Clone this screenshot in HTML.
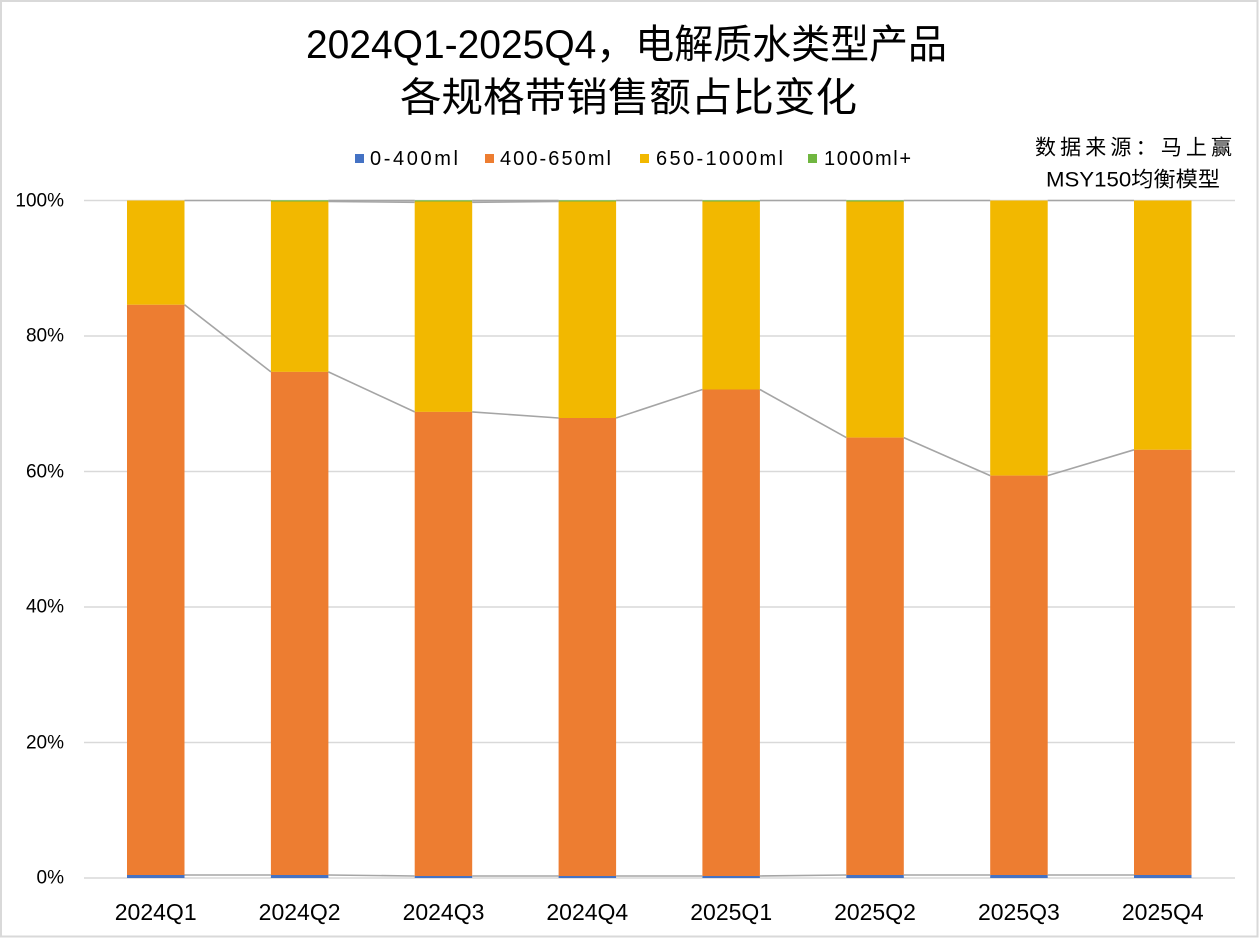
<!DOCTYPE html>
<html><head><meta charset="utf-8"><style>
html,body{margin:0;padding:0;background:#fff;}
svg{display:block;}
text{font-family:"Liberation Sans","Noto Sans CJK SC",sans-serif;fill:#000;}
</style></head><body>
<svg width="1259" height="938" viewBox="0 0 1259 938" xmlns="http://www.w3.org/2000/svg">
<rect x="0" y="0" width="1259" height="938" fill="#fff"/>
<rect x="1" y="1" width="1256.5" height="935.5" fill="none" stroke="#d9d9d9" stroke-width="2"/>
<!-- title -->
<text x="306" y="45" font-size="40" dominant-baseline="central" textLength="641" lengthAdjust="spacingAndGlyphs">2024Q1-2025Q4，电解质水类型产品</text>
<text x="400" y="98" font-size="40" dominant-baseline="central" textLength="457" lengthAdjust="spacingAndGlyphs">各规格带销售额占比变化</text>
<!-- source -->
<text x="1035" y="148" font-size="21" dominant-baseline="central" textLength="197" lengthAdjust="spacing">数据来源：马上赢</text>
<text x="1046" y="180" font-size="21" dominant-baseline="central" textLength="174" lengthAdjust="spacingAndGlyphs">MSY150均衡模型</text>
<!-- legend -->
<rect x="355" y="154" width="9" height="9" fill="#4472c4"/>
<text x="370" y="159" font-size="20" dominant-baseline="central" textLength="88" lengthAdjust="spacing">0-400ml</text>
<rect x="485" y="154" width="9" height="9" fill="#ed7d31"/>
<text x="500" y="159" font-size="20" dominant-baseline="central" textLength="111" lengthAdjust="spacing">400-650ml</text>
<rect x="640" y="154" width="9" height="9" fill="#f2b800"/>
<text x="656" y="159" font-size="20" dominant-baseline="central" textLength="127" lengthAdjust="spacing">650-1000ml</text>
<rect x="808" y="154" width="9" height="9" fill="#70b640"/>
<text x="824" y="159" font-size="20" dominant-baseline="central" textLength="87" lengthAdjust="spacing">1000ml+</text>
<!-- gridlines -->
<g stroke="#d9d9d9" stroke-width="1.5">
<line x1="84" y1="200.5" x2="1235" y2="200.5"/>
<line x1="84" y1="336" x2="1235" y2="336"/>
<line x1="84" y1="471.5" x2="1235" y2="471.5"/>
<line x1="84" y1="607" x2="1235" y2="607"/>
<line x1="84" y1="742.5" x2="1235" y2="742.5"/>
<line x1="84" y1="878" x2="1235" y2="878"/>
</g>
<!-- y labels -->
<g font-size="19" text-anchor="end">
<text x="64" y="201" dominant-baseline="central">100%</text>
<text x="64" y="336" dominant-baseline="central">80%</text>
<text x="64" y="472" dominant-baseline="central">60%</text>
<text x="64" y="607" dominant-baseline="central">40%</text>
<text x="64" y="743" dominant-baseline="central">20%</text>
<text x="64" y="878" dominant-baseline="central">0%</text>
</g>
<!-- bars -->
<g id="bars">
<rect x="127" y="200.5" width="57.5" height="104.3" fill="#f2b800"/>
<rect x="127" y="304.8" width="57.5" height="570.5" fill="#ed7d31"/>
<rect x="127" y="875" width="57.5" height="3" fill="#4472c4"/>
<rect x="270.9" y="200.3" width="57.5" height="1.5" fill="#70b640"/>
<rect x="270.9" y="201.5" width="57.5" height="170.4" fill="#f2b800"/>
<rect x="270.9" y="371.9" width="57.5" height="503.1" fill="#ed7d31"/>
<rect x="270.9" y="875" width="57.5" height="3" fill="#4472c4"/>
<rect x="414.7" y="200.3" width="57.5" height="1.5" fill="#70b640"/>
<rect x="414.7" y="201.5" width="57.5" height="210.4" fill="#f2b800"/>
<rect x="414.7" y="411.9" width="57.5" height="464.1" fill="#ed7d31"/>
<rect x="414.7" y="876" width="57.5" height="2" fill="#4472c4"/>
<rect x="558.6" y="200.3" width="57.5" height="1.5" fill="#70b640"/>
<rect x="558.6" y="201.5" width="57.5" height="216.5" fill="#f2b800"/>
<rect x="558.6" y="418" width="57.5" height="458" fill="#ed7d31"/>
<rect x="558.6" y="876" width="57.5" height="2" fill="#4472c4"/>
<rect x="702.4" y="200.3" width="57.5" height="1.5" fill="#70b640"/>
<rect x="702.4" y="201.5" width="57.5" height="188" fill="#f2b800"/>
<rect x="702.4" y="389.5" width="57.5" height="486.5" fill="#ed7d31"/>
<rect x="702.4" y="876" width="57.5" height="2" fill="#4472c4"/>
<rect x="846.3" y="200.3" width="57.5" height="1.5" fill="#70b640"/>
<rect x="846.3" y="201.5" width="57.5" height="236.1" fill="#f2b800"/>
<rect x="846.3" y="437.6" width="57.5" height="437.4" fill="#ed7d31"/>
<rect x="846.3" y="875" width="57.5" height="3" fill="#4472c4"/>
<rect x="990.2" y="200.5" width="57.5" height="275.1" fill="#f2b800"/>
<rect x="990.2" y="475.6" width="57.5" height="399.4" fill="#ed7d31"/>
<rect x="990.2" y="875" width="57.5" height="3" fill="#4472c4"/>
<rect x="1134" y="200.5" width="57.5" height="249.3" fill="#f2b800"/>
<rect x="1134" y="449.8" width="57.5" height="425.2" fill="#ed7d31"/>
<rect x="1134" y="875" width="57.5" height="3" fill="#4472c4"/>
</g>
<!-- series lines -->
<g stroke="#a5a5a5" stroke-width="1.6" fill="none">
<polyline points="184.5,200.5 270.9,200.5"/>
<polyline points="328.4,200.5 414.7,200.5"/>
<polyline points="472.2,200.5 558.6,200.5"/>
<polyline points="616.1,200.5 702.4,200.5"/>
<polyline points="759.9,200.5 846.3,200.5"/>
<polyline points="903.8,200.5 990.2,200.5"/>
<polyline points="1047.7,200.5 1134,200.5"/>
<polyline points="328.4,201.5 414.7,202.3"/>
<polyline points="472.2,202.3 558.6,201.5"/>
<line x1="184.5" y1="304.8" x2="270.9" y2="371.9"/>
<line x1="328.4" y1="371.9" x2="414.7" y2="411.9"/>
<line x1="472.2" y1="411.9" x2="558.6" y2="418"/>
<line x1="616.1" y1="418" x2="702.4" y2="389.5"/>
<line x1="759.9" y1="389.5" x2="846.3" y2="437.6"/>
<line x1="903.8" y1="437.6" x2="990.2" y2="475.6"/>
<line x1="1047.7" y1="475.6" x2="1134" y2="449.8"/>
<line x1="184.5" y1="875" x2="270.9" y2="875"/>
<line x1="328.4" y1="875" x2="414.7" y2="876"/>
<line x1="472.2" y1="876" x2="558.6" y2="876"/>
<line x1="616.1" y1="876" x2="702.4" y2="876"/>
<line x1="759.9" y1="876" x2="846.3" y2="875"/>
<line x1="903.8" y1="875" x2="990.2" y2="875"/>
<line x1="1047.7" y1="875" x2="1134" y2="875"/>
</g>
<!-- x labels -->
<g font-size="23" text-anchor="middle">
<text x="155.7" y="912" dominant-baseline="central">2024Q1</text>
<text x="299.6" y="912" dominant-baseline="central">2024Q2</text>
<text x="443.5" y="912" dominant-baseline="central">2024Q3</text>
<text x="587.3" y="912" dominant-baseline="central">2024Q4</text>
<text x="731.2" y="912" dominant-baseline="central">2025Q1</text>
<text x="875" y="912" dominant-baseline="central">2025Q2</text>
<text x="1018.9" y="912" dominant-baseline="central">2025Q3</text>
<text x="1162.8" y="912" dominant-baseline="central">2025Q4</text>
</g>
</svg>
</body></html>
